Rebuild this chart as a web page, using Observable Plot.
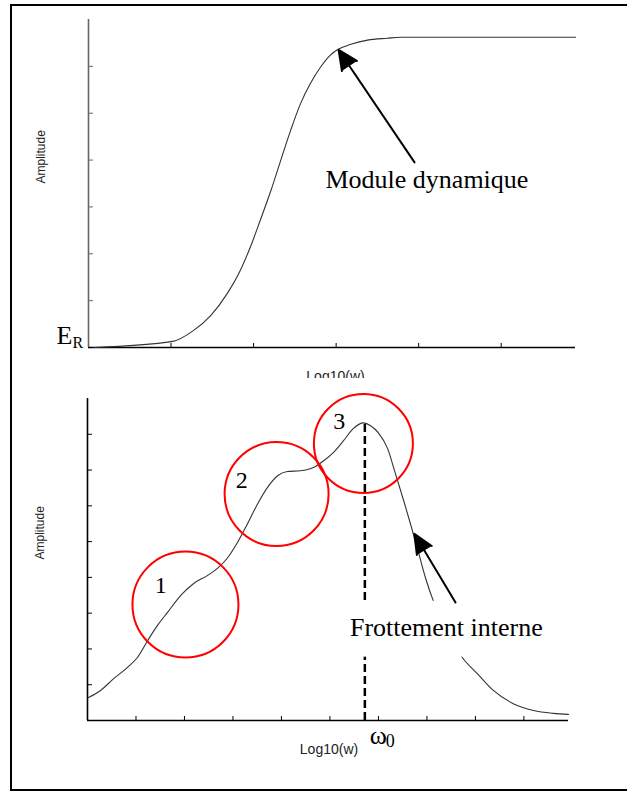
<!DOCTYPE html>
<html>
<head>
<meta charset="utf-8">
<script src="https://cdn.jsdelivr.net/npm/d3@7"></script>
<script src="https://cdn.jsdelivr.net/npm/@observablehq/plot@0.6"></script>
<style>
  html, body { margin: 0; padding: 0; background: #fff; overflow: hidden; }
  #wrap { position: relative; width: 627px; height: 792px; }
  #top, #bottom { position: absolute; left: 0; }
  #top { top: 0; }
  #bottom { top: 378px; }
  #frame { position: absolute; left: 10px; top: 4px; width: 617px; height: 787px; box-sizing: border-box;
           border: 2px solid #000; border-right: none; pointer-events: none; z-index: 5; }
</style>
</head>
<body>
<div id="wrap"><div id="top"></div><div id="bottom"></div><div id="frame"></div></div>
<script>
// ---------- Data: top chart (dynamic modulus) ----------
const modX = [0.07, 1.02, 1.27, 1.48, 1.68, 1.84, 1.96, 2.08, 2.21, 2.33, 2.45, 2.57, 2.69, 2.81, 2.93, 3.03, 3.18, 3.38, 3.62, 3.78, 5.90];
const modY = [0.00, 0.13, 0.36, 0.68, 1.15, 1.65, 2.14, 2.71, 3.35, 4.00, 4.64, 5.21, 5.64, 5.98, 6.24, 6.37, 6.47, 6.56, 6.60, 6.62, 6.62];
const topXTicks = [1, 2, 3, 4, 5];
const topYTicks = [1, 2, 3, 4, 5, 6];

// ---------- Data: bottom chart (internal friction) ----------
const frX = [0.02, 0.27, 0.54, 0.82, 1.03, 1.24, 1.44, 1.65, 1.92, 2.19, 2.47, 2.68, 2.89, 3.09, 3.30, 3.51, 3.71, 3.92, 4.12, 4.39, 4.66, 4.87, 5.07, 5.28, 5.48, 5.69, 5.84, 6.00, 6.19, 6.35, 6.52, 6.66, 6.80, 6.97, 7.13, 7.38, 7.55, 7.73, 8.04, 8.37, 8.78, 9.20, 9.61, 9.92];
const frY = [0.64, 0.84, 1.17, 1.48, 1.76, 2.23, 2.65, 3.02, 3.49, 3.83, 4.05, 4.25, 4.55, 4.97, 5.50, 6.06, 6.51, 6.84, 6.96, 6.98, 7.07, 7.26, 7.49, 7.82, 8.16, 8.32, 8.24, 8.04, 7.60, 6.90, 6.15, 5.50, 4.83, 3.99, 3.35, 2.60, 2.15, 1.76, 1.31, 0.84, 0.47, 0.28, 0.20, 0.17];
const botXTicks = [1, 2, 3, 4, 5, 6, 7, 8, 9];
const botYTicks = [1, 2, 3, 4, 5, 6, 7, 8];

// ---------- Annotations (data coordinates) ----------
const topLabels = [{text: "Module dynamique", x: 4.10, y: 3.40}];
const topArrow = [{x1: 3.95, y1: 3.95, x2: 3.03, y2: 6.35}];
const omega0 = [{x: 5.72, y1: 0, y2: 8.32}];
const circles = [
  {label: "1", x: 2.02, y: 3.24, r: 53, lx: 1.51, ly: 3.55},
  {label: "2", x: 3.90, y: 6.33, r: 52, lx: 3.18, ly: 6.51},
  {label: "3", x: 5.69, y: 7.74, r: 49.5, lx: 5.19, ly: 8.16}
];
const botLabels = [{text: "Frottement interne", x: 7.40, y: 2.35}];
const botBox = [{x1: 5.22, x2: 9.65, y1: 1.77, y2: 3.33}];
const botArrow = [{x1: 7.59, y1: 3.30, x2: 6.74, y2: 5.22}];

const modulus = modX.map((x, i) => ({x, y: modY[i]}));
const friction = frX.map((x, i) => ({x, y: frY[i]}));

const SERIF = "'Liberation Serif', 'Times New Roman', serif";
const SANS = "'Liberation Sans', Arial, sans-serif";
const W = 627;

// ---------- Top chart ----------
const tH = 378, tMT = 19, tMB = 31, tML = 88, tMR = 52;
const tInH = tH - tMT - tMB, tInW = W - tML - tMR;
const topPlot = Plot.plot({
  width: W, height: tH,
  marginTop: tMT, marginBottom: tMB, marginLeft: tML, marginRight: tMR,
  x: {domain: [0, 5.9], axis: null},
  y: {domain: [0, 7], axis: null},
  style: {background: "white"},
  marks: [
    Plot.tickX(topXTicks, {x: d => d, insetTop: tInH - 4, stroke: "#000", strokeWidth: 1}),
    Plot.tickY(topYTicks, {y: d => d, insetRight: tInW - 5, stroke: "#666", strokeWidth: 1}),
    Plot.ruleX([0], {stroke: "#666", strokeWidth: 1.6}),
    Plot.ruleY([0], {stroke: "#000", strokeWidth: 1.6}),
    Plot.line(modulus, {x: "x", y: "y", curve: "monotone-x", stroke: "#333", strokeWidth: 1.1}),
    Plot.arrow(topArrow, {x1: "x1", y1: "y1", x2: "x2", y2: "y2", stroke: "#000", fill: "#000", strokeWidth: 2, headLength: 16, headAngle: 50}),
    Plot.text(topLabels, {x: "x", y: "y", text: "text", lineAnchor: "bottom", fontFamily: SERIF, fontSize: 26, fill: "#000"}),
    Plot.text(["E"], {frameAnchor: "bottom-left", dx: -16, dy: -4, textAnchor: "end", lineAnchor: "bottom", fontFamily: SERIF, fontSize: 26, fill: "#000"}),
    Plot.text(["R"], {frameAnchor: "bottom-left", dx: -16, dy: 0, textAnchor: "start", lineAnchor: "bottom", fontFamily: SERIF, fontSize: 16, fill: "#000"}),
    Plot.text(["Amplitude"], {frameAnchor: "left", dx: -47, rotate: -90, fontFamily: SANS, fontSize: 12, fill: "#222"}),
    Plot.text(["Log10(w)"], {frameAnchor: "bottom", dx: 3.5, dy: 33, lineAnchor: "bottom", fontFamily: SANS, fontSize: 14, fill: "#222"})
  ]
});
document.getElementById("top").appendChild(topPlot);

// ---------- Bottom chart ----------
const bH = 414, bMT = 20, bMB = 72, bML = 87, bMR = 59;
const bInH = bH - bMT - bMB, bInW = W - bML - bMR;
const botPlot = Plot.plot({
  width: W, height: bH,
  marginTop: bMT, marginBottom: bMB, marginLeft: bML, marginRight: bMR,
  x: {domain: [0, 9.92], axis: null},
  y: {domain: [0, 9], axis: null},
  r: {type: "identity"},
  style: {background: "white"},
  marks: [
    Plot.tickX(botXTicks, {x: d => d, insetTop: bInH - 4, stroke: "#000", strokeWidth: 1}),
    Plot.tickY(botYTicks, {y: d => d, insetRight: bInW - 5, stroke: "#000", strokeWidth: 1}),
    Plot.ruleX([0], {stroke: "#000", strokeWidth: 1.6}),
    Plot.ruleY([0], {stroke: "#000", strokeWidth: 1.6}),
    Plot.line(friction, {x: "x", y: "y", curve: "monotone-x", stroke: "#333", strokeWidth: 1.1}),
    Plot.dot(circles, {x: "x", y: "y", r: "r", stroke: "#ff0000", strokeWidth: 2, fill: "none"}),
    Plot.ruleX(omega0, {x: "x", y1: "y1", y2: "y2", stroke: "#000", strokeWidth: 2.5, strokeDasharray: "8,4"}),
    Plot.rect(botBox, {x1: "x1", x2: "x2", y1: "y1", y2: "y2", fill: "white"}),
    Plot.arrow(botArrow, {x1: "x1", y1: "y1", x2: "x2", y2: "y2", stroke: "#000", fill: "#000", strokeWidth: 2, headLength: 16, headAngle: 48}),
    Plot.text(circles, {x: "lx", y: "ly", text: "label", lineAnchor: "bottom", fontFamily: SERIF, fontSize: 24, fill: "#000"}),
    Plot.text(botLabels, {x: "x", y: "y", text: "text", lineAnchor: "bottom", fontFamily: SERIF, fontSize: 26, fill: "#000"}),
    Plot.text(omega0, {x: "x", y: "y1", text: () => "ω", dx: 5, dy: 23, textAnchor: "start", lineAnchor: "bottom", fontFamily: SERIF, fontSize: 26, fill: "#000"}),
    Plot.text(omega0, {x: "x", y: "y1", text: () => "0", dx: 21, dy: 26, textAnchor: "start", lineAnchor: "bottom", fontFamily: SERIF, fontSize: 18, fill: "#000"}),
    Plot.text(["Amplitude"], {frameAnchor: "left", dx: -47, rotate: -90, fontFamily: SANS, fontSize: 12, fill: "#222"}),
    Plot.text(["Log10(w)"], {frameAnchor: "bottom", dx: 1, dy: 33, lineAnchor: "bottom", fontFamily: SANS, fontSize: 14, fill: "#222"})
  ]
});
document.getElementById("bottom").appendChild(botPlot);
</script>
</body>
</html>
